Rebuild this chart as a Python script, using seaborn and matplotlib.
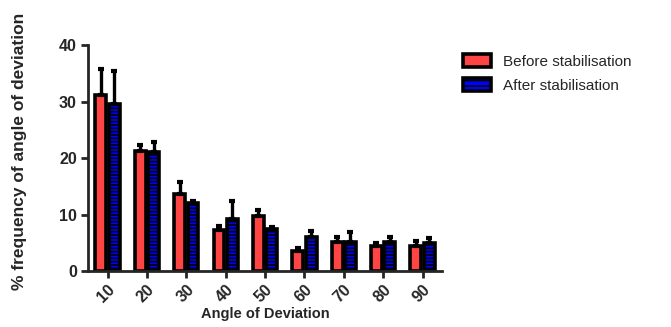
import numpy as np
import pandas as pd
import seaborn as sns
import matplotlib
matplotlib.use("Agg")
import matplotlib.pyplot as plt

# values
angles = ["10", "20", "30", "40", "50", "60", "70", "80", "90"]
before_mean = [31.2, 21.3, 13.6, 7.3, 9.7, 3.6, 5.1, 4.4, 4.4]
before_top = [35.7, 22.3, 15.7, 7.9, 10.8, 4.0, 6.0, 4.9, 5.3]
after_mean = [29.5, 21.1, 12.1, 9.2, 7.5, 6.1, 5.1, 5.1, 4.9]
after_top = [35.4, 22.8, 12.4, 12.4, 7.8, 7.1, 7.0, 6.0, 5.9]
series = ["Before stabilisation", "After stabilisation"]
colors = ["#FF4444", "#0000FF"]

df = pd.DataFrame({
    "angle": angles * 2,
    "value": before_mean + after_mean,
    "group": [series[0]] * 9 + [series[1]] * 9,
})
err_up = np.array(before_top + after_top) - np.array(before_mean + after_mean)

sns.set_style("ticks")
plt.rcParams["font.family"] = ["Liberation Sans", "DejaVu Sans"]
plt.rcParams["hatch.linewidth"] = 1.2
plt.rcParams["hatch.color"] = "black"

fig = plt.figure(figsize=(6.71, 3.27), dpi=100)
ax = fig.add_axes([0.131, 0.171, 0.528, 0.691])

sns.barplot(data=df, x="angle", y="value", hue="group", palette=colors,
            saturation=1, width=0.68, gap=0.18, errorbar=None,
            edgecolor="black", linewidth=2.6, ax=ax, legend=True)

# error bars (upper only) from the bar positions
bars = [p for p in ax.patches if p.get_height() > 0][:18]
xs = [p.get_x() + p.get_width() / 2 for p in bars]
hs = [p.get_height() for p in bars]
ax.errorbar(xs, hs, yerr=[np.zeros(len(hs)), err_up], fmt="none",
            ecolor="black", elinewidth=2.4, capsize=2.5, capthick=3, zorder=1)
for p in bars[9:]:
    p.set_hatch("-----")

ax.set_xlim(-0.5, 8.5)
ax.set_ylim(0, 40)
ax.set_yticks([0, 10, 20, 30, 40])
ax.set_xlabel("Angle of Deviation", fontsize=10.5, fontweight="bold", labelpad=1)
ax.set_ylabel("% frequency of angle of deviation", fontsize=12.5,
              fontweight="bold")
ax.yaxis.set_label_coords(-0.172, 0.53)
for lab in ax.get_yticklabels():
    lab.set_fontweight("bold")
    lab.set_fontsize(11.5)
for lab in ax.get_xticklabels():
    lab.set_fontweight("bold")
    lab.set_fontsize(11.5)
    lab.set_rotation(45)
    lab.set_ha("right")
    lab.set_rotation_mode("anchor")

sns.despine(ax=ax)
for s in ["left", "bottom"]:
    ax.spines[s].set_linewidth(2)
ax.tick_params(width=2, length=5, direction="out", pad=3)

leg = ax.legend(loc="upper left", bbox_to_anchor=(1.02, 1.02), frameon=False,
                fontsize=11, handlelength=1.8, handleheight=0.9,
                labelspacing=0.6, handletextpad=0.8)
leg.get_patches()[1].set_hatch("---")

fig.savefig("out.png", dpi=100)
